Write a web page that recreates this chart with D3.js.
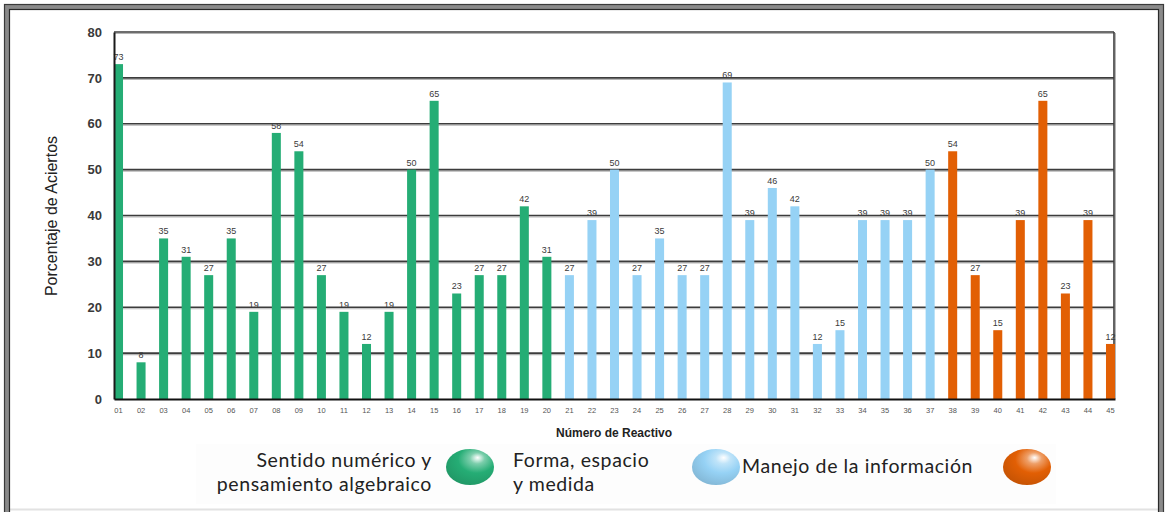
<!DOCTYPE html>
<html>
<head>
<meta charset="utf-8">
<script src="https://cdn.jsdelivr.net/npm/d3@7/dist/d3.min.js"></script>
<style>
  html, body { margin: 0; padding: 0; background: #fff; }
  svg { display: block; }
</style>
</head>
<body>
<svg id="chart" width="1168" height="512"></svg>
<script>
// Item numbers (Número de Reactivo)
const items = d3.range(1, 46).map(i => String(i).padStart(2, "0"));

// Percentage of correct answers per item
const aciertos = [
  73, 8, 35, 31, 27, 35, 19, 58, 54, 27, 19, 12, 19, 50, 65, 23, 27, 27, 42, 31,
  27, 39, 50, 27, 35, 27, 27, 69, 39, 46, 42, 12, 15, 39, 39, 39, 50,
  54, 27, 15, 39, 65, 23, 39, 12
];

// Thematic axis of each item (index into ejes)
const ejeDeReactivo = [
  0,0,0,0,0,0,0,0,0,0,0,0,0,0,0,0,0,0,0,0,
  1,1,1,1,1,1,1,1,1,1,1,1,1,1,1,1,1,
  2,2,2,2,2,2,2,2
];

const ejes = [
  ["Sentido numérico y", "pensamiento algebraico"],
  ["Forma, espacio", "y medida"],
  ["Manejo de la información"]
];
const colores = ["#25ad75", "#96d2f5", "#e25f04"];

const yTicks = [0, 10, 20, 30, 40, 50, 60, 70, 80];

const svg = d3.select("#chart");

// Page frame
svg.append("rect").attr("x", 0).attr("y", 0).attr("width", 1168).attr("height", 512).attr("fill", "#fff");
svg.append("line").attr("x1", 10).attr("x2", 1159).attr("y1", 509.5).attr("y2", 509.5)
  .attr("stroke", "#e2e2e2").attr("stroke-width", 2);
svg.append("rect").attr("x", 7).attr("y", 7).attr("width", 1154).attr("height", 530)
  .attr("fill", "none").attr("stroke", "#8a8a8a").attr("stroke-width", 5);
svg.append("rect").attr("x", 4.5).attr("y", 4.5).attr("width", 1159).attr("height", 540)
  .attr("fill", "none").attr("stroke", "#3a3a3a").attr("stroke-width", 1.2);
svg.append("rect").attr("x", 9.5).attr("y", 9.5).attr("width", 1149).attr("height", 530)
  .attr("fill", "none").attr("stroke", "#2a2a2a").attr("stroke-width", 1.2);

// Scales
const plot = { left: 114, right: 1115, top: 32, bottom: 399 };
const x = d3.scaleBand().domain(items).range([plot.left, plot.right])
  .paddingInner(0.6).paddingOuter(0);
const y = d3.scaleLinear().domain([0, 80]).range([plot.bottom, plot.top]);

// Horizontal grid lines with soft shadow
const grid = svg.append("g");
yTicks.filter(t => t > 0).forEach(t => {
  grid.append("line").attr("x1", plot.left).attr("x2", plot.right - 1)
    .attr("y1", y(t) + 1.5).attr("y2", y(t) + 1.5)
    .attr("stroke", "#b5b5b5").attr("stroke-width", 1.2);
  grid.append("line").attr("x1", plot.left).attr("x2", plot.right - 1)
    .attr("y1", y(t)).attr("y2", y(t))
    .attr("stroke", "#3c3c3c").attr("stroke-width", 1.6);
});

// Right border of the plot
svg.append("line").attr("x1", plot.right - 1).attr("x2", plot.right - 1)
  .attr("y1", plot.top).attr("y2", plot.bottom)
  .attr("stroke", "#3c3c3c").attr("stroke-width", 1.6);
svg.append("line").attr("x1", plot.right + 0.5).attr("x2", plot.right + 0.5)
  .attr("y1", plot.top + 1).attr("y2", plot.bottom)
  .attr("stroke", "#b5b5b5").attr("stroke-width", 1);

// Bars
svg.append("g").selectAll("rect").data(aciertos).join("rect")
  .attr("x", (d, i) => x(items[i]))
  .attr("y", d => y(d))
  .attr("width", x.bandwidth())
  .attr("height", d => y(0) - y(d))
  .attr("fill", (d, i) => colores[ejeDeReactivo[i]]);

// Value labels
svg.append("g").selectAll("text").data(aciertos).join("text")
  .attr("x", (d, i) => x(items[i]) + x.bandwidth() / 2)
  .attr("y", d => y(d) - 4)
  .attr("text-anchor", "middle")
  .attr("font-family", "Liberation Sans, Arial, sans-serif")
  .attr("font-size", 9)
  .attr("fill", "#3a3a3a")
  .text(d => d);

// Y axis
const yAxis = svg.append("g").attr("transform", `translate(${plot.left},0)`)
  .call(d3.axisLeft(y).tickValues(yTicks).tickSize(0).tickPadding(12));
yAxis.select(".domain").attr("stroke", "#1a1a1a").attr("stroke-width", 2);
yAxis.selectAll("text")
  .attr("font-family", "Liberation Sans, Arial, sans-serif")
  .attr("font-size", 13).attr("font-weight", "bold").attr("fill", "#3a3a3a");

// X axis
const xAxis = svg.append("g").attr("transform", `translate(0,${plot.bottom})`)
  .call(d3.axisBottom(x).tickSize(0).tickPadding(9));
xAxis.select(".domain").attr("stroke", "#111").attr("stroke-width", 2.2);
xAxis.selectAll("text")
  .attr("font-family", "Liberation Sans, Arial, sans-serif")
  .attr("font-size", 7.5).attr("fill", "#555");

// Axis titles
svg.append("text")
  .attr("transform", "translate(57,216) rotate(-90)")
  .attr("text-anchor", "middle")
  .attr("font-family", "Liberation Sans, Arial, sans-serif")
  .attr("font-size", 16).attr("fill", "#222")
  .text("Porcentaje de Aciertos");

svg.append("text")
  .attr("x", 614).attr("y", 437)
  .attr("text-anchor", "middle")
  .attr("font-family", "Liberation Sans, Arial, sans-serif")
  .attr("font-size", 12).attr("font-weight", "bold").attr("fill", "#222")
  .text("Número de Reactivo");

// Legend
const defs = svg.append("defs");
colores.forEach((c, i) => {
  const g = defs.append("radialGradient").attr("id", "bola" + i)
    .attr("cx", "62%").attr("cy", "32%").attr("r", "70%").attr("fx", "66%").attr("fy", "24%");
  g.append("stop").attr("offset", "0%").attr("stop-color", "#ffffff").attr("stop-opacity", 0.95);
  g.append("stop").attr("offset", "22%").attr("stop-color", d3.interpolateRgb("#ffffff", c)(0.6));
  g.append("stop").attr("offset", "55%").attr("stop-color", c);
  g.append("stop").attr("offset", "100%").attr("stop-color", d3.color(c).darker(0.35));
});

svg.append("rect").attr("x", 196).attr("y", 444).attr("width", 860).attr("height", 60)
  .attr("fill", "#fdfdfd");

const legend = [
  { lines: ejes[0], anchor: "end", tx: 432, cx: 470 },
  { lines: ejes[1], anchor: "start", tx: 513, cx: 716 },
  { lines: ejes[2], anchor: "start", tx: 742, cx: 1027 }
];
legend.forEach((l, i) => {
  svg.append("ellipse").attr("cx", l.cx).attr("cy", 467).attr("rx", 24).attr("ry", 18)
    .attr("fill", `url(#bola${i})`);
  l.lines.forEach((line, k) => {
    svg.append("text")
      .attr("font-family", "Lato, 'Open Sans', sans-serif")
      .attr("font-size", 19.5).attr("fill", "#222")
      .attr("letter-spacing", 0.6)
      .attr("text-anchor", l.anchor)
      .attr("x", l.tx)
      .attr("y", (l.lines.length === 2 ? 467 : 473) + k * 24)
      .text(line);
  });
});
</script>
</body>
</html>
